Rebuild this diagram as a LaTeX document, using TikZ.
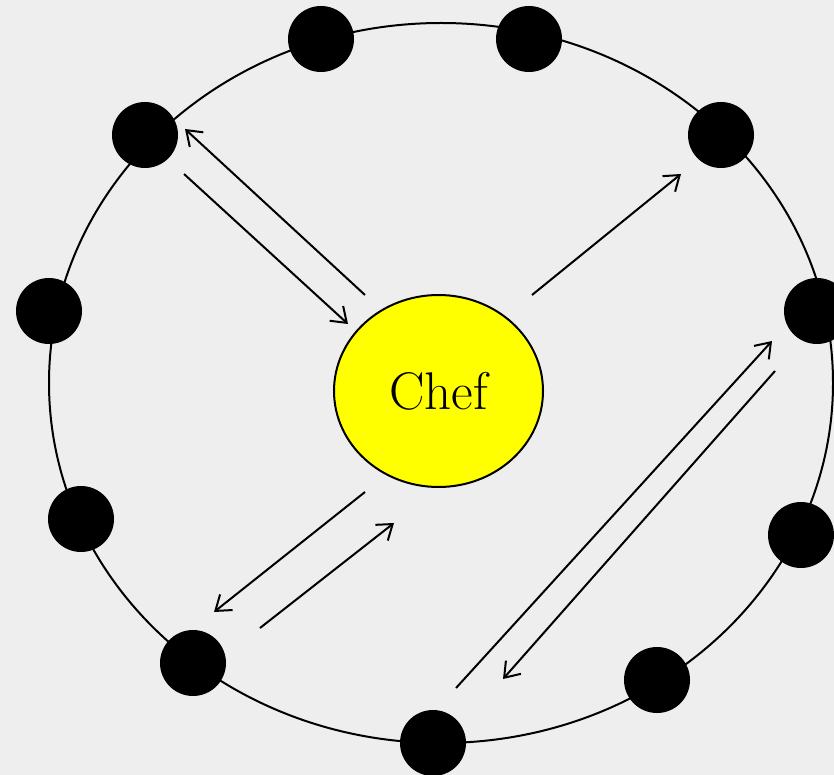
\documentclass[tikz,border=0pt]{standalone}
\usepackage{tikz}
\usetikzlibrary{arrows.meta,positioning,shapes.geometric}
\definecolor{bgc}{HTML}{EEEEEE}
\definecolor{chefc}{HTML}{FFFF00}

\begin{document}
\begin{tikzpicture}[
    x=1pt, y=-1pt,
    dot/.style={circle, fill=black, draw=none, minimum size=66pt, inner sep=0pt},
    chef/.style={ellipse, draw, line width=2pt, fill=chefc, minimum width=209pt,
                 minimum height=192pt, inner sep=0pt, font=\fontsize{53}{60}\selectfont},
    arr/.style={-{Straight Barb[length=14pt, width=20pt]}, line width=2pt},
    ring/.style={line width=2pt},
  ]
  % background and page size
  \fill[bgc] (0,0) rectangle (834,775);
  \useasboundingbox (0,0) rectangle (834,775);

  % the big ring
  \draw[ring] (441,383) ellipse [x radius=392pt, y radius=360pt];

  % dots on the ring
  \node[dot] (d1)  at (321,39)  {};
  \node[dot] (d2)  at (529,39)  {};
  \node[dot] (d3)  at (145,135) {};
  \node[dot] (d4)  at (721,135) {};
  \node[dot] (d5)  at (49,311)  {};
  \node[dot] (d6)  at (817,311) {};
  \node[dot] (d7)  at (81,519)  {};
  \node[dot] (d8)  at (801,535) {};
  \node[dot] (d9)  at (193,663) {};
  \node[dot] (d10) at (657,680) {};
  \node[dot] (d11) at (433,743) {};

  % centre
  \node[chef] (chef) at (438.5,391) {Chef};

  % free ends of the arrows
  \coordinate (a1s) at (365,295); \coordinate (a1e) at (185,129);
  \coordinate (a2s) at (184,174); \coordinate (a2e) at (348,324);
  \coordinate (a3s) at (532,295); \coordinate (a3e) at (681,174);
  \coordinate (a4s) at (365,492); \coordinate (a4e) at (214,612);
  \coordinate (a5s) at (260,628); \coordinate (a5e) at (394,523);
  \coordinate (a6s) at (456,688); \coordinate (a6e) at (772,341);
  \coordinate (a7s) at (775,371); \coordinate (a7e) at (503,679);

  % messages
  \draw[arr] (a1s) -- (a1e);
  \draw[arr] (a2s) -- (a2e);
  \draw[arr] (a3s) -- (a3e);
  \draw[arr] (a4s) -- (a4e);
  \draw[arr] (a5s) -- (a5e);
  \draw[arr] (a6s) -- (a6e);
  \draw[arr] (a7s) -- (a7e);
\end{tikzpicture}
\end{document}
